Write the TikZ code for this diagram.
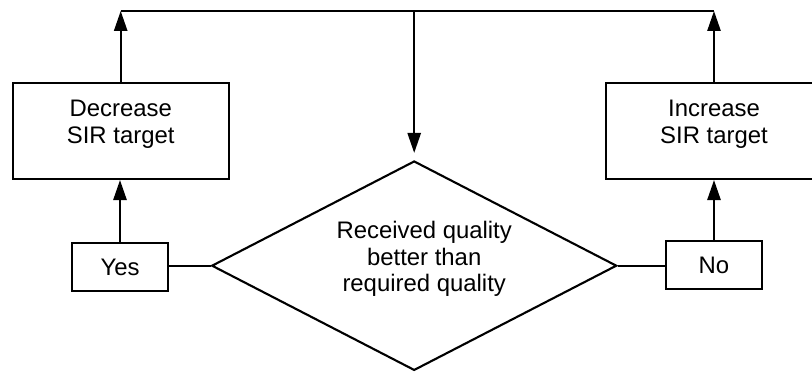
\documentclass[tikz,border=0pt]{standalone}
\usepackage{fontspec}
\setmainfont{Liberation Sans}
\usetikzlibrary{shapes.geometric}
\usetikzlibrary{arrows.meta}
\usetikzlibrary{calc}

\begin{document}
\begin{tikzpicture}[line width=1.5pt,
	font=\fontsize{17pt}{19pt}\selectfont,
	sirbox/.style={draw, minimum width=5.4cm, minimum height=2.4cm},
	answer/.style={draw, minimum width=2.4cm, minimum height=1.2cm, inner sep=0},
	boxtext/.style={align=center, inner sep=0},
	check/.style={draw, diamond, aspect=1.934, minimum width=10.125cm, minimum height=5.235cm, inner sep=0},
	flow/.style={-{Triangle[length=0.5cm, width=0.33cm]}}]
\useasboundingbox (0,0) rectangle (20.3,9.3);
\node[check] (quality) at (10.355,2.6575) {};
\node[boxtext] (qualitytext) at ([shift={(0.25,0.17)}]quality.center) {Received quality\\better than\\required quality};
\node[sirbox] (dec) at (3.0175,6.025) {};
\node[boxtext] (dectext) at ([yshift=0.17cm]dec.center) {Decrease\\SIR target};
\node[sirbox] (inc) at (17.85,6.025) {};
\node[boxtext] (inctext) at ([yshift=0.17cm]inc.center) {Increase\\SIR target};
\node[answer] (yes) at (3.0,2.625) {Yes};
\node[answer] (no) at (17.85,2.675) {No};
%\node (top) at (10.355,9.025) {};
\coordinate (topl) at (dec.north |- 0,9.025);
\coordinate (topr) at (inc.north |- 0,9.025);
\coordinate (top) at (quality.north |- 0,9.025);

\draw (topl) -- (topr);
\draw[flow, shorten >=0.175cm] (top) -- (quality.north);
\draw (quality.west) -- (quality.west -| yes.east);
\draw (quality.east) -- (quality.east -| no.west);
\draw[flow] (yes.north) -- (yes.north |- dec.south);
\draw[flow] (no.north) -- (no.north |- inc.south);
\draw[flow] (dec.north) -- (topl);
\draw[flow] (inc.north) -- (topr);
\end{tikzpicture}
\end{document}
